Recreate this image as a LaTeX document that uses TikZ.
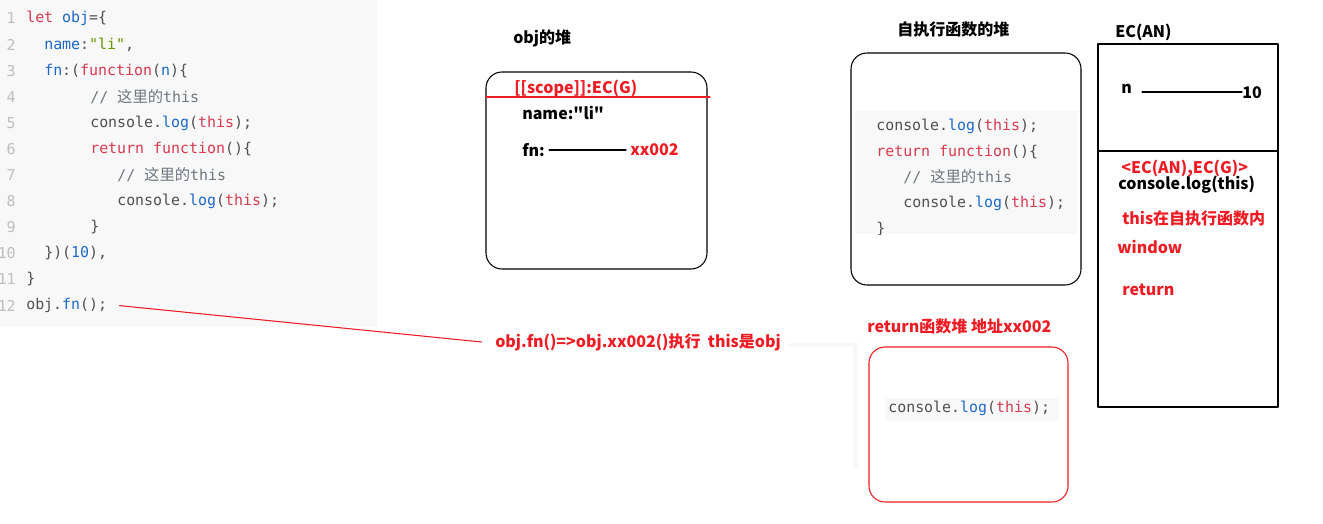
\documentclass[tikz,border=0pt]{standalone}
\usepackage{fontspec}
\setmainfont{Noto Sans CJK SC}
\newfontfamily\codefont{DejaVu Sans Mono}
\newfontfamily\cjk{Noto Sans CJK SC}

\definecolor{kwred}{RGB}{215,58,80}
\definecolor{codeblue}{RGB}{30,105,200}
\definecolor{codegreen}{RGB}{100,150,0}
\definecolor{codetext}{RGB}{80,80,80}
\definecolor{comgray}{RGB}{110,118,128}
\definecolor{lnumgray}{RGB}{190,190,190}
\definecolor{panelgray}{RGB}{248,248,248}
\definecolor{annred}{RGB}{237,28,36}

\newcommand\kw[1]{\textcolor{kwred}{#1}}
\newcommand\bl[1]{\textcolor{codeblue}{#1}}
\newcommand\gr[1]{\textcolor{codegreen}{#1}}
\newcommand\zh[1]{{\cjk\fontsize{11.5}{12}\selectfont #1}}

\begin{document}
\begin{tikzpicture}[x=0.75pt, y=-0.75pt, line join=round, line cap=round,
	code/.style={font=\codefont\fontsize{11.2}{13}\selectfont, text=codetext, anchor=west, inner sep=0},
	lnum/.style={code, text=lnumgray, anchor=east},
	lbl/.style={font=\bfseries\fontsize{12}{14}\selectfont, anchor=west, inner sep=0},
	redlbl/.style={lbl, text=annred},
	heap/.style={draw, line width=0.8pt, rounded corners=12pt}]
	\useasboundingbox (0,0) rectangle (1323,524);
	% source code
	\fill[panelgray] (0,0) rectangle (377,327);
	\foreach \i in {1,...,12}
		\node[lnum] (l\i) at (16,{18.5+26.1*(\i-1)}) {\i};
	\node[code] (c1) at (26,18.5) {\kw{let} \bl{obj}=\{};
	\node[code] (c2) at (44,44.6) {\bl{name}:\gr{\textquotedbl li\textquotedbl},};
	\node[code] (c3) at (44,70.7) {\bl{fn}:(\kw{function}(\bl{n})\{};
	\node[code, text=comgray] (c4) at (90,96.8) {// \zh{这里的}this};
	\node[code] (c5) at (90,122.9) {console.\bl{log}(\kw{this});};
	\node[code] (c6) at (90,149) {\kw{return} \kw{function}()\{};
	\node[code, text=comgray] (c7) at (117,175.1) {// \zh{这里的}this};
	\node[code] (c8) at (117,201.2) {console.\bl{log}(\kw{this});};
	\node[code] (c9) at (90,227.3) {\}};
	\node[code] (c10) at (44,253.4) {\})(\bl{10}),};
	\node[code] (c11) at (26,279.5) {\}};
	\node[code] (c12) at (26,305.6) {obj.\bl{fn}();};
	% call
	\node[redlbl] (call) at (495,342) {obj.fn()=>obj.xx002()执行\ \ this是obj};
	\draw[annred, line width=0.8pt] ([xshift=9pt]c12.east) -- ([xshift=-10pt]call.west);
	\fill[panelgray] (787,343) rectangle (858,346) (853,343) rectangle (858,468);
	% obj heap
	\node[lbl] (objT) at (513,38) {obj的堆};
	\draw[heap] (486,72) rectangle (707,269);
	\draw[annred, line width=0.8pt] (486,97) -- (710,97);
	\node[redlbl] (scope) at (514,88) {[[scope]]:EC(G)};
	\node[lbl] (name) at (522,113) {name:\textquotedbl li\textquotedbl};
	\node[lbl] (fn) at (522,150) {fn:};
	\node[redlbl] (addr) at (630,150) {xx002};
	\draw[line width=0.8pt] ([xshift=3pt]fn.east) -- ([xshift=-3pt]addr.west);
	% self-executing heap
	\node[lbl] (selfT) at (897,29) {自执行函数的堆};
	\draw[heap] (851,53) rectangle (1081,285);
	\begin{scope}
		\clip (855,111) rectangle (1078,234);
		\fill[panelgray] (855,111) rectangle (1078,234);
		\node[code] (s1) at (876,126) {console.\bl{log}(\kw{this});};
		\node[code] (s2) at (876,152) {\kw{return} \kw{function}()\{};
		\node[code, text=comgray] (s3) at (903,177) {// \zh{这里的}this};
		\node[code] (s4) at (903,203) {console.\bl{log}(\kw{this});};
		\node[code] (s5) at (876,229) {\}};
	\end{scope}
	% return heap
	\node[redlbl] (retT) at (867,326) {return函数堆 地址xx002};
	\draw[heap, annred] (869,347) rectangle (1068,502);
	\fill[panelgray] (885,398) rectangle (1059,421);
	\node[code] (r1) at (888,408) {console.\bl{log}(\kw{this});};
	% EC(AN)
	\node[lbl] (ecT) at (1115,32) {EC(AN)};
	\draw[line width=0.8pt] (1098,44) rectangle (1278,407);
	\draw[line width=0.8pt] (1098,151) -- (1278,151);
	\node[lbl] (n) at (1121,89) {n};
	\node[lbl] (ten) at (1242,93) {10};
	\coordinate (nEnd) at (1142,92);
	\draw[line width=0.8pt] (nEnd) -- (ten.west |- nEnd);
	\node[redlbl] (chain) at (1121,169) {<EC(AN),EC(G)>};
	\node[lbl] (log) at (1118,185) {console.log(this)};
	\node[redlbl] (inner) at (1122,218) {this在自执行函数内};
	\node[redlbl] (win) at (1117,247) {window};
	\node[redlbl] (ret) at (1122,290) {return};
\end{tikzpicture}
\end{document}
